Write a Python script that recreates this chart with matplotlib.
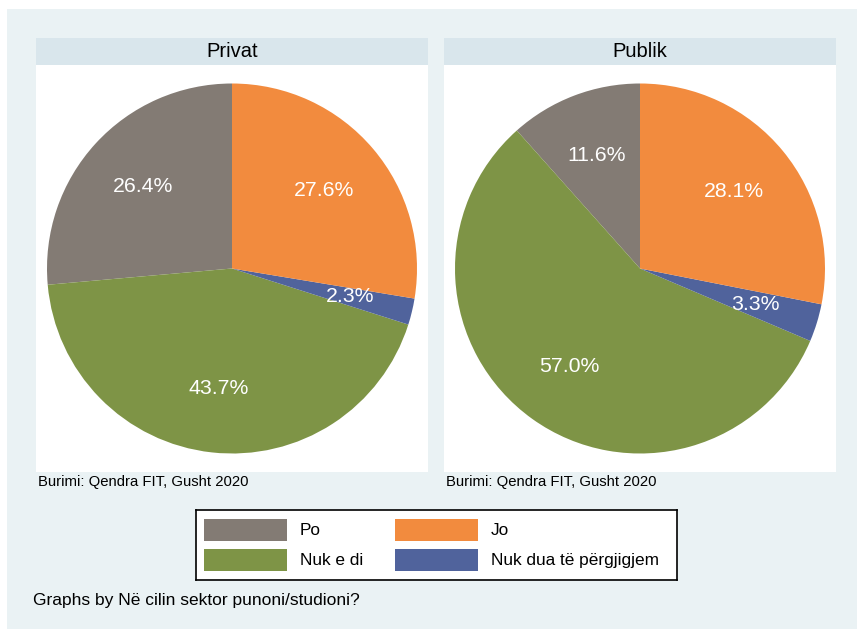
import matplotlib
matplotlib.use('Agg')
import matplotlib.pyplot as plt
from matplotlib.patches import Rectangle

plt.rcParams['font.family'] = ['Liberation Sans', 'DejaVu Sans']

# kategorite dhe perqindjet sipas sektorit
categories = ['Po', 'Jo', 'Nuk e di', 'Nuk dua të përgjigjem']
panels = ['Privat', 'Publik']
privat = [26.4, 27.6, 43.7, 2.3]
publik = [11.6, 28.1, 57.0, 3.3]
source = 'Burimi: Qendra FIT, Gusht 2020'
note = 'Graphs by Në cilin sektor punoni/studioni?'

colors = ['#837b74', '#f28b3e', '#7e9446', '#50639c']
# renditja e feteve ne drejtim kundar ores duke filluar nga lart
order = [0, 2, 3, 1]

W, H = 857, 629
BG = '#eaf2f4'
STRIP = '#d9e6ec'


def px(x0, y0, x1, y1):
    # koordinatat ne piksel (nga lart) -> fraksion i figures
    return [x0 / W, 1 - y1 / H, (x1 - x0) / W, (y1 - y0) / H]


fig = plt.figure(figsize=(W / 100, H / 100), dpi=100)
fig.patch.set_facecolor('white')
fig.patches.append(Rectangle((7 / W, 0), 1, 1 - 9 / H, transform=fig.transFigure,
                             facecolor=BG, edgecolor='none', zorder=-10))

for i, (title, vals) in enumerate(zip(panels, [privat, publik])):
    x0 = 36 + i * 408
    x1 = x0 + 392
    # shiriti i titullit
    st = fig.add_axes(px(x0, 38, x1, 65))
    st.set_facecolor(STRIP)
    st.set_xticks([])
    st.set_yticks([])
    for s in st.spines.values():
        s.set_visible(False)
    st.text(0.5, 0.5, title, ha='center', va='center', fontsize=14.5)

    ax = fig.add_axes(px(x0, 65, x1, 472))
    wedges, texts, autotexts = ax.pie(
        [vals[k] for k in order], colors=[colors[k] for k in order],
        startangle=90, counterclock=True, radius=1,
        autopct='%.1f%%', pctdistance=0.655,
        textprops={'color': 'white', 'fontsize': 15.3},
        wedgeprops={'linewidth': 0})
    ax.set_frame_on(True)
    ax.set_facecolor('white')
    ax.set_xlim(-1.1 * 392 / 407, 1.1 * 392 / 407)
    ax.set_ylim(-1.1, 1.1)
    ax.set_aspect('equal')
    ax.set_xticks([])
    ax.set_yticks([])
    for s in ax.spines.values():
        s.set_visible(False)

    fig.text((x0 + 2) / W, 1 - 482 / H, source, ha='left', va='center', fontsize=10.7)

# legjenda
lg = fig.add_axes(px(196, 510, 677, 580))
lg.set_xlim(196, 677)
lg.set_ylim(580, 510)
lg.set_facecolor('white')
lg.set_xticks([])
lg.set_yticks([])
for s in lg.spines.values():
    s.set_linewidth(1.2)
    s.set_color('black')
for k, name in enumerate(categories):
    col, row = k % 2, k // 2
    sx = 204 + col * 191
    sy = 519 + row * 30
    lg.add_patch(Rectangle((sx, sy), 83, 22, facecolor=colors[k], edgecolor='none'))
    lg.text(sx + 96, sy + 11, name, ha='left', va='center', fontsize=12.4)

fig.text(33 / W, 1 - 601 / H, note, ha='left', va='center', fontsize=12.5)

fig.savefig('out.png', dpi=100, facecolor=fig.get_facecolor())
